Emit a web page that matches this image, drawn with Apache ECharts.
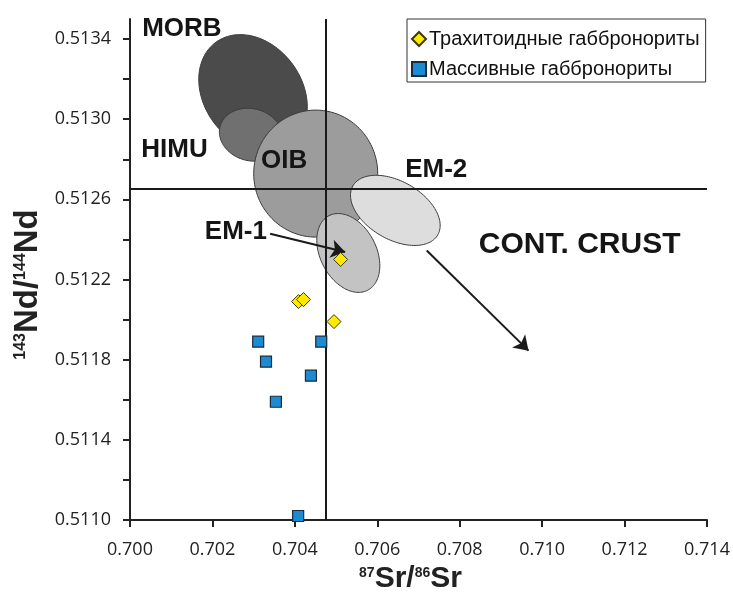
<!DOCTYPE html>
<html>
<head>
<meta charset="utf-8">
<script src="https://cdn.jsdelivr.net/npm/echarts@6/dist/echarts.min.js"></script>
<style>html,body{margin:0;padding:0;background:#fff;}#chart{width:733px;height:599px;}</style>
</head>
<body>
<div id="chart"></div>
<script>
// ---- data ----
var srTicks = [0.700, 0.702, 0.704, 0.706, 0.708, 0.710, 0.712, 0.714];
var ndTicks = [0.5110, 0.5112, 0.5114, 0.5116, 0.5118, 0.5120, 0.5122, 0.5124, 0.5126, 0.5128, 0.5130, 0.5132, 0.5134];
var ndLabels = [0.5110, 0.5114, 0.5118, 0.5122, 0.5126, 0.5130, 0.5134];

var trachName = 'Трахитоидные габбронориты';
var trachSr = [0.70511, 0.70409, 0.70421, 0.70495];
var trachNd = [0.51230, 0.51209, 0.51210, 0.51199];

var massName = 'Массивные габбронориты';
var massSr = [0.70311, 0.70464, 0.70330, 0.70439, 0.70354, 0.70408];
var massNd = [0.51189, 0.51189, 0.51179, 0.51172, 0.51159, 0.51102];

var fieldNames = ['MORB', 'HIMU', 'OIB', 'EM-2', 'EM-1'];
var fieldSr = [0.702985, 0.702936, 0.704506, 0.706438, 0.705297];
var fieldNd = [0.51313, 0.5129225, 0.5127285, 0.512545, 0.5123325];

var labelNames = ['MORB', 'HIMU', 'OIB', 'EM-2', 'EM-1', 'CONT. CRUST'];
var labelSr = [0.70126, 0.70108, 0.70374, 0.70743, 0.70257, 0.71091];
var labelNd = [0.51345, 0.512845, 0.51279, 0.512745, 0.51244, 0.512375];

var arrowFromSr = [0.70340, 0.70720];
var arrowFromNd = [0.512428, 0.512345];
var arrowToSr = [0.70522, 0.70967];
var arrowToNd = [0.512337, 0.511845];

var srRef = 0.70476;
var ndRef = 0.512655;
var srRange = [0.700, 0.714];
var ndRange = [0.5110, 0.5135];

// ---- styles (pixel shapes of the fields) ----
var fieldStyle = {
  'MORB': {a: 63, b: 49, angle: 54, color: '#4b4b4b'},
  'HIMU': {a: 32, b: 26, angle: 15, color: '#707070'},
  'OIB':  {a: 63.5, b: 62, angle: 90, color: '#9c9c9c'},
  'EM-2': {a: 49, b: 29, angle: 30, color: '#dddddd'},
  'EM-1': {a: 42, b: 28, angle: 62.5, color: '#c3c3c3'}
};
var labelFont = {'CONT. CRUST': 30};

function zip(a, b) { return a.map(function (v, i) { return [v, b[i]]; }); }

var chart = echarts.init(document.getElementById('chart'), null, {renderer: 'canvas'});

var fieldData = fieldNames.map(function (n, i) { return {name: n, value: [fieldSr[i], fieldNd[i]]}; });
var labelData = labelNames.map(function (n, i) {
  return {name: n, value: [labelSr[i], labelNd[i]], label: {fontSize: labelFont[n] || 26}};
});
var arrowData = arrowFromSr.map(function (v, i) {
  return [{coord: [arrowFromSr[i], arrowFromNd[i]]}, {coord: [arrowToSr[i], arrowToNd[i]]}];
});
var refData = [
  [{coord: [srRef, ndRange[0]]}, {coord: [srRef, ndRange[1]]}],
  [{coord: [srRange[0], ndRef]}, {coord: [srRange[1], ndRef]}]
];

var axisFont = {fontFamily: 'Open Sans', fontSize: 18, color: '#222'};

chart.setOption({
  animation: false,
  grid: {left: 130, right: 26, top: 19, bottom: 79},
  legend: {
    data: [
      {name: trachName, icon: 'diamond'},
      {name: massName, icon: 'rect'}
    ],
    orient: 'vertical',
    left: 407, top: 19,
    padding: [10, 6, 3, 4],
    itemWidth: 14, itemHeight: 14,
    itemGap: 10,
    backgroundColor: '#fff',
    borderColor: '#333', borderWidth: 1,
    textStyle: {fontFamily: 'Liberation Sans', fontSize: 20, color: '#111', lineHeight: 20, padding: [0, 0, 0, -2]},
    selectedMode: false
  },
  xAxis: {
    type: 'value', min: srRange[0], max: srRange[1],
    name: '{sup|87}{b|Sr/}{sup|86}{b|Sr}',
    nameLocation: 'middle', nameGap: 38,
    nameTextStyle: {
      rich: {
        b: {fontFamily: 'Liberation Sans', fontWeight: 'bold', fontSize: 30, color: '#222', lineHeight: 30},
        sup: {fontFamily: 'Liberation Sans', fontWeight: 'bold', fontSize: 14, color: '#222', lineHeight: 30, verticalAlign: 'top', padding: [2, 0, 0, 0]}
      },
      padding: [0, 16, 0, 0]
    },
    axisLine: {onZero: false, lineStyle: {color: '#222', width: 2}},
    axisTick: {show: true, inside: false, length: 7, lineStyle: {color: '#222', width: 2}, customValues: srTicks},
    axisLabel: {customValues: srTicks, margin: 21, formatter: function (v) { return v.toFixed(3); }, fontFamily: axisFont.fontFamily, fontSize: axisFont.fontSize, color: axisFont.color},
    splitLine: {show: false}
  },
  yAxis: {
    type: 'value', min: ndRange[0], max: ndRange[1],
    name: '{sup|143}{b|Nd/}{sup|144}{b|Nd}',
    nameLocation: 'middle', nameGap: 85,
    nameTextStyle: {
      rich: {
        b: {fontFamily: 'Liberation Sans', fontWeight: 'bold', fontSize: 33, color: '#222', lineHeight: 33},
        sup: {fontFamily: 'Liberation Sans', fontWeight: 'bold', fontSize: 16, color: '#222', lineHeight: 33, verticalAlign: 'top', padding: [2, 0, 0, 0]}
      },
      padding: [0, 30, 0, 0]
    },
    axisLine: {onZero: false, lineStyle: {color: '#222', width: 2}},
    axisTick: {show: true, inside: false, length: 7, lineStyle: {color: '#222', width: 2}, customValues: ndTicks},
    axisLabel: {customValues: ndLabels, margin: 19, formatter: function (v) { return v.toFixed(4); }, fontFamily: axisFont.fontFamily, fontSize: axisFont.fontSize, color: axisFont.color},
    splitLine: {show: false}
  },
  series: [
    {
      type: 'custom', name: 'fields', z: 1, clip: false, silent: true,
      data: fieldData,
      renderItem: function (params, api) {
        var f = fieldStyle[fieldNames[params.dataIndex]];
        var c = api.coord([api.value(0), api.value(1)]);
        var th = f.angle * Math.PI / 180;
        var pts = [];
        for (var i = 0; i < 144; i++) {
          var t = i / 144 * 2 * Math.PI;
          var ex = f.a * Math.cos(t), ey = f.b * Math.sin(t);
          pts.push([c[0] + ex * Math.cos(th) - ey * Math.sin(th), c[1] + ex * Math.sin(th) + ey * Math.cos(th)]);
        }
        return {type: 'polygon', shape: {points: pts}, style: {fill: f.color, stroke: '#3a3a3a', lineWidth: 1}};
      }
    },
    {
      type: 'scatter', name: 'labels', z: 3, silent: true,
      symbolSize: 0,
      itemStyle: {opacity: 1},
      data: labelData,
      label: {show: true, position: 'inside', formatter: '{b}', fontFamily: 'Liberation Sans', fontWeight: 'bold', color: '#151515', opacity: 1},
      markLine: {
        silent: true, symbol: ['none', 'none'], animation: false,
        label: {show: false},
        lineStyle: {color: '#1a1a1a', width: 2, type: 'solid', opacity: 1},
        emphasis: {disabled: true},
        data: refData
      }
    },
    {
      type: 'scatter', name: 'arrows', z: 3, silent: true,
      symbolSize: 0,
      data: [[arrowFromSr[0], arrowFromNd[0]]],
      markLine: {
        silent: true, symbol: ['none', 'arrow'], symbolSize: 14, animation: false,
        label: {show: false},
        lineStyle: {color: '#1a1a1a', width: 2, type: 'solid', opacity: 1},
        emphasis: {disabled: true},
        data: arrowData
      }
    },
    {
      type: 'scatter', name: trachName, z: 5,
      symbol: 'diamond', symbolSize: 14,
      itemStyle: {color: '#ffea00', borderColor: '#3d3a10', borderWidth: 1, opacity: 1},
      data: zip(trachSr, trachNd)
    },
    {
      type: 'scatter', name: massName, z: 5,
      symbol: 'rect', symbolSize: 11,
      itemStyle: {color: '#1b8bd4', borderColor: '#1a2c3c', borderWidth: 1.2, opacity: 1},
      data: zip(massSr, massNd)
    }
  ]
});
</script>
</body>
</html>
